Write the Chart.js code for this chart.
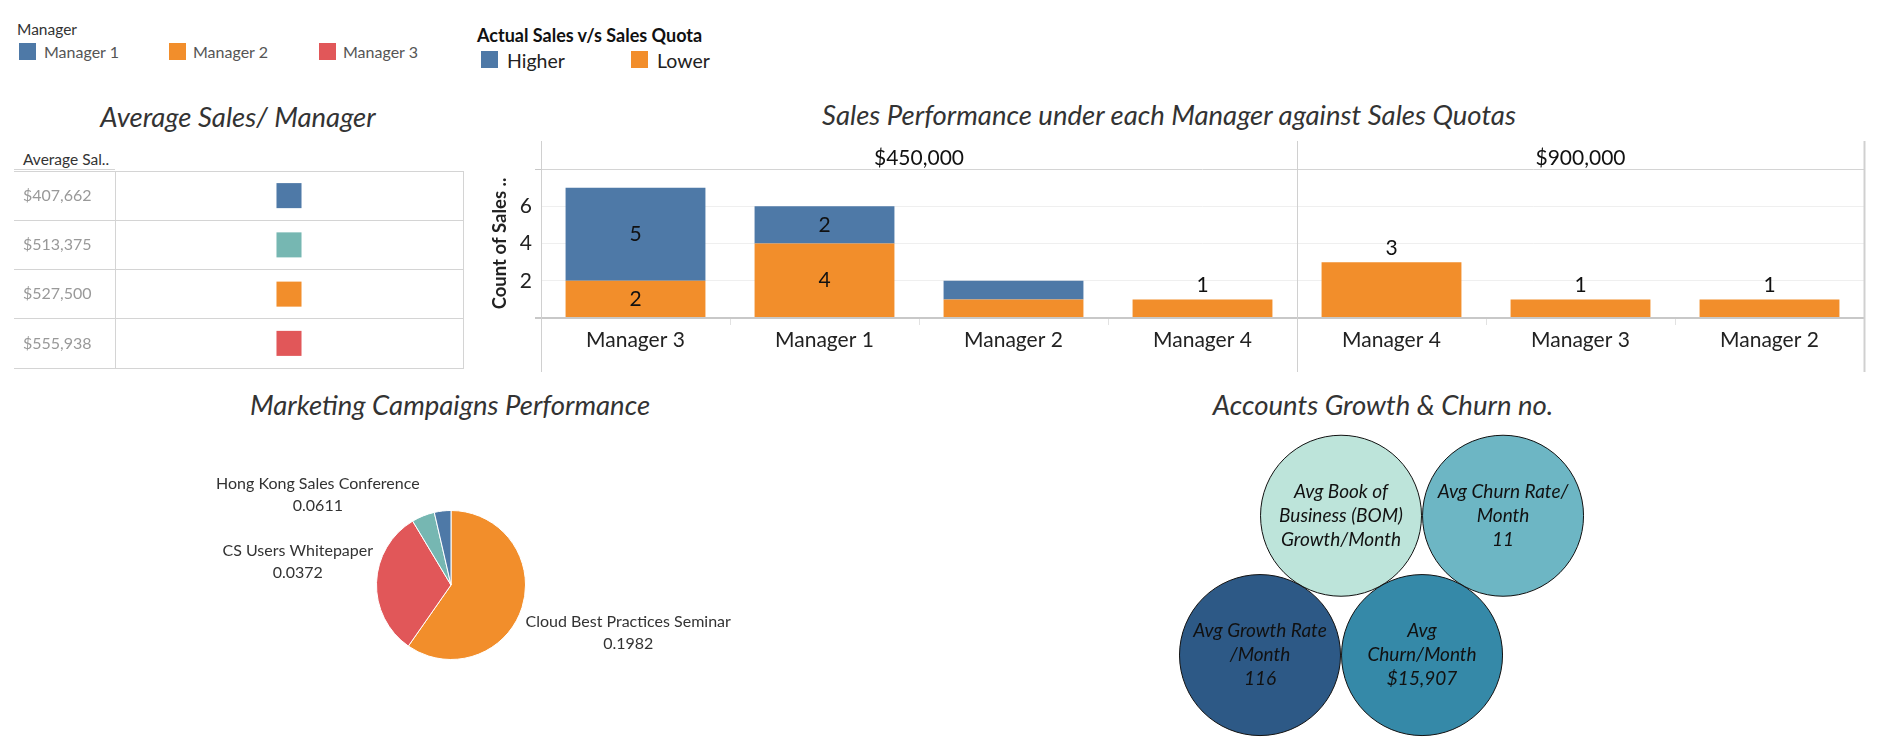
<!DOCTYPE html>
<html>
<head>
<meta charset="utf-8">
<title>Sales Dashboard</title>
<script src="https://cdn.jsdelivr.net/npm/chart.js@4.4.1/dist/chart.umd.min.js"></script>
<style>
  body { margin: 0; background: #fff; font-family: Lato, sans-serif; }
  #page { position: relative; width: 1880px; height: 750px; overflow: hidden; }
  .t { position: absolute; white-space: nowrap; line-height: 1; transform: translateY(-50%); }
  .ttl { position: absolute; white-space: nowrap; line-height: 1; font-style: italic; font-size: 27.5px; color: #333; transform: translate(-50%, -50%); }
  .sw { position: absolute; width: 17px; height: 17px; }
  canvas { position: absolute; }
</style>
</head>
<body>
<div id="page">
  <!-- legends -->
  <div class="t" style="left:17px;top:30px;font-size:15.5px;color:#333">Manager</div>
  <div class="sw" style="left:19px;top:43px;background:#4e79a7"></div>
  <div class="t" style="left:44px;top:52px;font-size:16px;color:#555">Manager 1</div>
  <div class="sw" style="left:169px;top:43px;background:#f28e2b"></div>
  <div class="t" style="left:193px;top:52px;font-size:16px;color:#555">Manager 2</div>
  <div class="sw" style="left:319px;top:43px;background:#e15759"></div>
  <div class="t" style="left:343px;top:52px;font-size:16px;color:#555">Manager 3</div>

  <div class="t" style="left:477px;top:35px;font-size:18px;font-weight:bold;color:#111">Actual Sales v/s Sales Quota</div>
  <div class="sw" style="left:481px;top:51px;background:#4e79a7"></div>
  <div class="t" style="left:507px;top:61px;font-size:19.5px;color:#222">Higher</div>
  <div class="sw" style="left:631px;top:51px;background:#f28e2b"></div>
  <div class="t" style="left:657px;top:61px;font-size:19.5px;color:#222">Lower</div>

  <!-- titles -->
  <div class="ttl" style="left:238px;top:117px">Average Sales/ Manager</div>
  <div class="ttl" style="left:1169px;top:115px">Sales Performance under each Manager against Sales Quotas</div>
  <div class="ttl" style="left:450px;top:405px">Marketing Campaigns Performance</div>
  <div class="ttl" style="left:1383px;top:405px">Accounts Growth &amp; Churn no.</div>

  <div class="t" style="left:23px;top:160px;font-size:15.5px;color:#333">Average Sal..</div>
  <div style="position:absolute;left:14px;top:169px;width:101px;height:1px;background:#d4d4d4"></div>

  <canvas id="tableChart" width="480" height="217" style="left:0;top:161px"></canvas>
  <canvas id="barChart" width="1410" height="245" style="left:470px;top:135px"></canvas>
  <canvas id="pieChart" width="600" height="290" style="left:150px;top:440px"></canvas>
  <canvas id="bubbleChart" width="500" height="330" style="left:1150px;top:420px"></canvas>
</div>

<script>
// ---------- data ----------
const managerColors = { 'Manager 1': '#4e79a7', 'Manager 2': '#f28e2b', 'Manager 3': '#e15759', 'Manager 4': '#76b7b2' };

// Average sales per manager (table)
const avgSales = [407662, 513375, 527500, 555938];
const avgSalesManager = ['Manager 1', 'Manager 4', 'Manager 2', 'Manager 3'];
const tableColumn = [0, 0, 0, 0];

// Sales performance vs quota
const barManagers = ['Manager 3', 'Manager 1', 'Manager 2', 'Manager 4', 'Manager 4', 'Manager 3', 'Manager 2'];
const barQuota = ['$450,000', '$450,000', '$450,000', '$450,000', '$900,000', '$900,000', '$900,000'];
const lowerCounts = [2, 4, 1, 1, 3, 1, 1];
const higherCounts = [5, 2, 1, 0, 0, 0, 0];
const yTicks = [0, 2, 4, 6, 8];

// Marketing campaigns
const campaignNames = ['Cloud Best Practices Seminar', 'CS Users Whitepaper', 'Hong Kong Sales Conference', ''];
const campaignShare = [59.7, 31.7, 5.0, 3.6];
const campaignRatio = [0.1982, 0.0372, 0.0611, null];
const campaignColors = ['#f28e2b', '#e15759', '#76b7b2', '#4e79a7'];

// Accounts growth & churn (packed bubbles)
const bubbleNames = [['Avg Book of', 'Business (BOM)', 'Growth/Month'], ['Avg Churn Rate/', 'Month'], ['Avg Growth Rate', '/Month'], ['Avg', 'Churn/Month']];
const bubbleValues = ['', '11', '116', '$15,907'];
const bubbleCol = [0.5, 1.5, 0, 1];
const bubbleRow = [0.86, 0.86, 0, 0];
const bubbleColors = ['#bde4da', '#6db6c4', '#2d5986', '#3589a8'];

Chart.defaults.font.family = 'Lato';
Chart.defaults.animation = false;
Chart.defaults.plugins.legend.display = false;
Chart.defaults.plugins.tooltip.enabled = false;

// ---------- table: average sales / manager ----------
new Chart(document.getElementById('tableChart'), {
  type: 'line',
  data: {
    labels: avgSales.map(v => '$' + v.toLocaleString('en-US')),
    datasets: [{
      data: tableColumn,
      showLine: false,
      pointStyle: 'rect',
      pointRadius: 17.7,
      pointBorderWidth: 0,
      pointBackgroundColor: avgSalesManager.map(m => managerColors[m])
    }]
  },
  options: {
    indexAxis: 'y',
    responsive: false,
    layout: { padding: { left: 23, right: 17, top: 10, bottom: 10 }, autoPadding: false },
    scales: {
      x: { display: false, min: -1, max: 1 },
      y: {
        type: 'category', offset: true,
        grid: { offset: true, color: '#d4d4d4', tickLength: 101, tickColor: '#d4d4d4' },
        border: { color: '#d4d4d4' },
        ticks: { crossAlign: 'far', color: '#999', font: { size: 16 }, padding: 0 },
        afterFit: s => { s.width = 92; }
      },
      yR: {
        position: 'right', grid: { display: false }, ticks: { display: false },
        border: { color: '#d4d4d4' },
        afterFit: s => { s.width = 0; }
      }
    }
  }
});

// ---------- bar chart ----------
const paneFrame = {
  id: 'paneFrame',
  afterDraw(chart) {
    const { ctx, chartArea: a, scales: { x } } = chart;
    const step = x.getPixelForValue(1) - x.getPixelForValue(0);
    const bounds = [0];
    for (let i = 1; i < barQuota.length; i++) if (barQuota[i] !== barQuota[i - 1]) bounds.push(i);
    bounds.push(barQuota.length);
    ctx.save();
    ctx.strokeStyle = '#d0d0d0';
    bounds.forEach((b, k) => {
      const px = Math.round(x.getPixelForValue(b) - step / 2) + 0.5;
      ctx.lineWidth = k === bounds.length - 1 ? 2 : 1;
      ctx.beginPath();
      ctx.moveTo(px, a.top - 28);
      ctx.lineTo(px, a.bottom + 54);
      ctx.stroke();
    });
    ctx.fillStyle = '#111';
    ctx.font = '21px Lato';
    ctx.textAlign = 'center';
    ctx.textBaseline = 'middle';
    for (let k = 0; k < bounds.length - 1; k++) {
      const l = x.getPixelForValue(bounds[k]) - step / 2;
      const r = x.getPixelForValue(bounds[k + 1]) - step / 2;
      ctx.fillText(barQuota[bounds[k]], (l + r) / 2, a.top - 11);
    }
    ctx.restore();
  }
};

const barLabels = {
  id: 'barLabels',
  afterDatasetsDraw(chart) {
    const ctx = chart.ctx;
    const low = chart.getDatasetMeta(0).data, high = chart.getDatasetMeta(1).data;
    ctx.save();
    ctx.font = '21px Lato';
    ctx.fillStyle = '#111';
    ctx.textAlign = 'center';
    ctx.textBaseline = 'middle';
    lowerCounts.forEach((lv, i) => {
      const hv = higherCounts[i];
      if (!hv) { ctx.fillText(lv, low[i].x, low[i].y - 14); return; }
      if (lv >= 2) ctx.fillText(lv, low[i].x, (low[i].y + low[i].base) / 2);
      if (hv >= 2) ctx.fillText(hv, high[i].x, (high[i].y + high[i].base) / 2);
    });
    ctx.restore();
  }
};

new Chart(document.getElementById('barChart'), {
  type: 'bar',
  data: {
    labels: barManagers,
    datasets: [
      { label: 'Lower', data: lowerCounts, backgroundColor: '#f28e2b' },
      { label: 'Higher', data: higherCounts, backgroundColor: '#4e79a7' }
    ]
  },
  options: {
    responsive: false,
    layout: { padding: { left: 0, right: 16, top: 34, bottom: 8 } },
    datasets: { bar: { barPercentage: 0.74, categoryPercentage: 1 } },
    scales: {
      x: {
        stacked: true,
        grid: { drawOnChartArea: false, tickLength: 7, color: '#e2e2e2' },
        border: { display: false },
        ticks: { color: '#222', font: { size: 21 }, padding: 3, maxRotation: 0 },
        afterFit: s => { s.height = 54; }
      },
      y: {
        stacked: true, min: 0, max: 8,
        afterBuildTicks: s => { s.ticks = yTicks.map(v => ({ value: v })); },
        grid: {
          color: c => c.tick.value === 0 ? '#c8c8c8' : (c.tick.value === 8 ? '#d4d4d4' : '#efefef'),
          lineWidth: c => c.tick.value === 0 ? 2 : 1,
          tickLength: 6,
          tickColor: c => (c.tick.value === 0 || c.tick.value === 8) ? '#c8c8c8' : 'rgba(0,0,0,0)'
        },
        border: { display: false },
        ticks: { color: '#222', font: { size: 21 }, padding: 3, callback: v => (v === 0 || v === 8) ? '' : v },
        title: { display: true, text: 'Count of Sales ..', color: '#222', font: { size: 18.5, weight: 'bold' }, padding: { top: 19, bottom: 0 } },
        afterFit: s => { s.width = 71; }
      }
    }
  },
  plugins: [paneFrame, barLabels]
});

// ---------- pie chart ----------
const pieLabels = {
  id: 'pieLabels',
  afterDatasetsDraw(chart) {
    const ctx = chart.ctx;
    ctx.save();
    ctx.font = '16px Lato';
    ctx.fillStyle = '#333';
    ctx.textAlign = 'center';
    ctx.textBaseline = 'middle';
    chart.getDatasetMeta(0).data.forEach((arc, i) => {
      if (!campaignNames[i]) return;
      const mid = (arc.startAngle + arc.endAngle) / 2;
      const px = arc.x + Math.cos(mid) * arc.outerRadius;
      const py = arc.y + Math.sin(mid) * arc.outerRadius;
      const lines = [campaignNames[i], campaignRatio[i].toFixed(4)];
      const w = Math.max(...lines.map(t => ctx.measureText(t).width));
      let cx, y0;
      if (Math.cos(mid) >= 0) { cx = px + 3.5 + w / 2; y0 = py + 14.5; }
      else { cx = px - 3.5 - w / 2; y0 = py - 32; }
      lines.forEach((t, k) => ctx.fillText(t, cx, y0 + k * 22));
    });
    ctx.restore();
  }
};

new Chart(document.getElementById('pieChart'), {
  type: 'pie',
  data: {
    labels: campaignNames,
    datasets: [{ data: campaignShare, backgroundColor: campaignColors, borderColor: '#fff', borderWidth: 1 }]
  },
  options: {
    responsive: false,
    layout: { padding: { left: 226, right: 224, top: 70, bottom: 70 } }
  },
  plugins: [pieLabels]
});

// ---------- packed bubbles ----------
const bubbleText = {
  id: 'bubbleText',
  afterDatasetsDraw(chart) {
    const ctx = chart.ctx;
    ctx.save();
    ctx.font = 'italic 19px Lato';
    ctx.fillStyle = '#111';
    ctx.textAlign = 'center';
    ctx.textBaseline = 'middle';
    chart.getDatasetMeta(0).data.forEach((pt, i) => {
      const lines = bubbleNames[i].concat(bubbleValues[i] ? [bubbleValues[i]] : []);
      const y0 = pt.y - (lines.length - 1) / 2 * 23.7;
      lines.forEach((t, k) => ctx.fillText(t, pt.x, y0 + k * 23.7));
    });
    ctx.restore();
  }
};

new Chart(document.getElementById('bubbleChart'), {
  type: 'bubble',
  data: {
    datasets: [{
      data: bubbleCol.map((c, i) => ({ x: c, y: bubbleRow[i] })),
      radius: 80.5,
      backgroundColor: bubbleColors,
      borderColor: '#111',
      borderWidth: 1,
      clip: false
    }]
  },
  options: {
    responsive: false,
    layout: { padding: 0, autoPadding: false },
    scales: {
      x: { display: false, min: -0.679, max: 2.407 },
      y: { display: false, min: -0.586, max: 1.451 }
    }
  },
  plugins: [bubbleText]
});
</script>
</body>
</html>
